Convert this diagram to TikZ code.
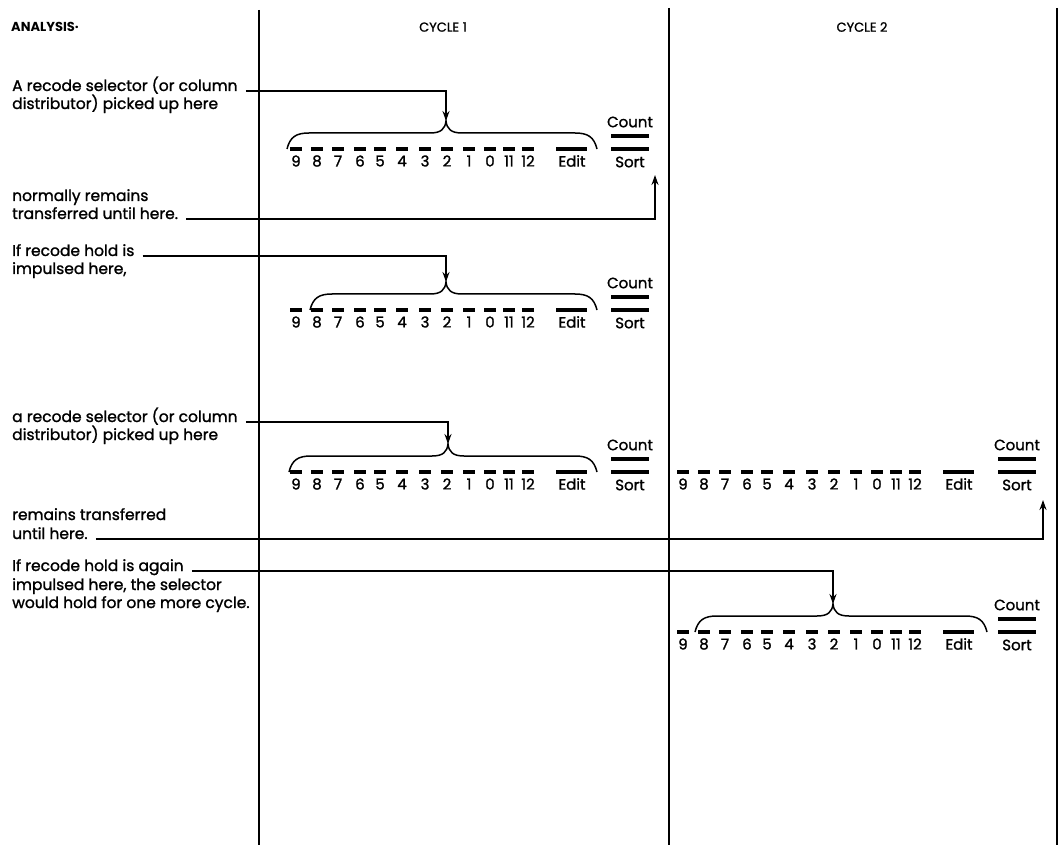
\documentclass[tikz,border=0pt]{standalone}
\usepackage{fontspec}
\setmainfont{Poppins}
\newfontfamily\medfont{Poppins}[FakeBold=1.3]
\usetikzlibrary{positioning,arrows.meta}

% one row of the dial: dashes, digits, Edit, Count/Sort
\newcommand\dialrow[3]{% #1 row name, #2 x of the 9, #3 y of the dashes
  \foreach \dx/\lab in {0/9,21/8,42/7,64/6,84/5,106/4,129/3,151/2,173/1,194/0,213/11,232/12}{
    \draw[dsh] ({#2+\dx-6},#3) -- ++(12,0);
    \node[dig] (#1-\lab) at ({#2+\dx},{#3+12}) {\lab};
  }
  \draw[dsh] ({#2+260},#3) -- ++(31,0);
  \node[dig] (#1-edit) at ({#2+276},{#3+12}) {Edit};
  \draw[dsh] ({#2+315},{#3-13}) -- ++(38,0);
  \draw[dsh] ({#2+315},#3) -- ++(38,0);
  \node[dig] (#1-count) at ({#2+334},{#3-27}) {Count};
  \node[dig] (#1-sort) at ({#2+334},{#3+13}) {Sort};
}

% curly brace over a row, peak kept as a coordinate
\newcommand\selbrace[5]{% #1 peak name, #2 left x, #3 peak x, #4 right x, #5 y of the dashes
  \draw[brc] (#2,#5) .. controls ({#2+3},{#5-12}) and ({#2+9},{#5-16}) .. ({#2+22},{#5-16})
    -- ({#3-16},{#5-16}) .. controls ({#3-5},{#5-16}) and ({#3-1},{#5-20}) .. ({#3},{#5-28})
    .. controls ({#3+1},{#5-20}) and ({#3+5},{#5-16}) .. ({#3+16},{#5-16})
    -- ({#4-22},{#5-16}) .. controls ({#4-9},{#5-16}) and ({#4-3},{#5-12}) .. (#4,#5);
  \coordinate (#1) at (#3,{#5-28});
}

\begin{document}
\begin{tikzpicture}[
  x=1pt, y=-1pt,
  lbl/.style={anchor=base west, font=\medfont\fontsize{15.5}{17}\selectfont, inner sep=2pt},
  hdr/.style={font=\medfont\fontsize{13}{15}\selectfont, inner sep=1pt},
  dig/.style={font=\medfont\fontsize{15}{17}\selectfont, inner sep=0pt},
  dsh/.style={line width=4pt},
  brc/.style={line width=1.5pt},
  div/.style={line width=1.2pt},
  arr/.style={-{Stealth[length=10pt,width=7pt]}, line width=2pt, shorten <=6pt}
]
  \useasboundingbox (0,0) rectangle (1061,845);

  % headings and cycle lines
  \node[hdr, anchor=west, font=\fontsize{13}{15}\selectfont\bfseries] (hana) at (10,27) {ANALYSIS·};
  \node[hdr] (hcy1) at (443,27) {CYCLE 1};
  \node[hdr] (hcy2) at (862,27) {CYCLE 2};
  \draw[div] (259,10) -- (259,845);
  \draw[div] (669,8) -- (669,845);
  \draw[div] (1057,8) -- (1057,845);

  % dial rows
  \dialrow{ra}{296}{149}
  \selbrace{pka}{287}{446}{597}{149}
  \dialrow{rb}{296}{310}
  \selbrace{pkb}{310}{446}{597}{310}
  \dialrow{rc}{296}{472}
  \selbrace{pkc}{289}{448}{597}{472}
  \dialrow{rd}{683}{472}
  \dialrow{re}{683}{632}
  \selbrace{pke}{695}{833}{987}{632}

  \coordinate (enda) at (655,175);
  \coordinate (endc) at (1043,500);

  % texts
  \node[lbl] (ta1) at (10,91) {A recode selector (or column};
  \node[lbl] (ta2) at (10,109) {distributor) picked up here};
  \node[lbl] (tb1) at (10,201) {normally remains};
  \node[lbl] (tb2) at (10,219) {transferred until here.};
  \node[lbl] (tc1) at (10,256) {If recode hold is};
  \node[lbl] (tc2) at (10,274) {impulsed here,};
  \node[lbl] (td1) at (10,422) {a recode selector (or column};
  \node[lbl] (td2) at (10,440) {distributor) picked up here};
  \node[lbl] (te1) at (10,520) {remains transferred};
  \node[lbl] (te2) at (10,539) {until here.};
  \node[lbl] (tf1) at (10,571) {If recode hold is again};
  \node[lbl] (tf2) at (10,590) {impulsed here, the selector};
  \node[lbl] (tf3) at (10,608) {would hold for one more cycle.};

  % arrows
  \draw[arr] (ta1.base east) -| (pka);
  \draw[arr] (tb2.base east) -| (enda);
  \draw[arr] (tc1.base east) -| (pkb);
  \draw[arr] (td1.base east) -| (pkc);
  \draw[arr] (te2.base east) -| (endc);
  \draw[arr] (tf1.base east) -| (pke);
\end{tikzpicture}
\end{document}
